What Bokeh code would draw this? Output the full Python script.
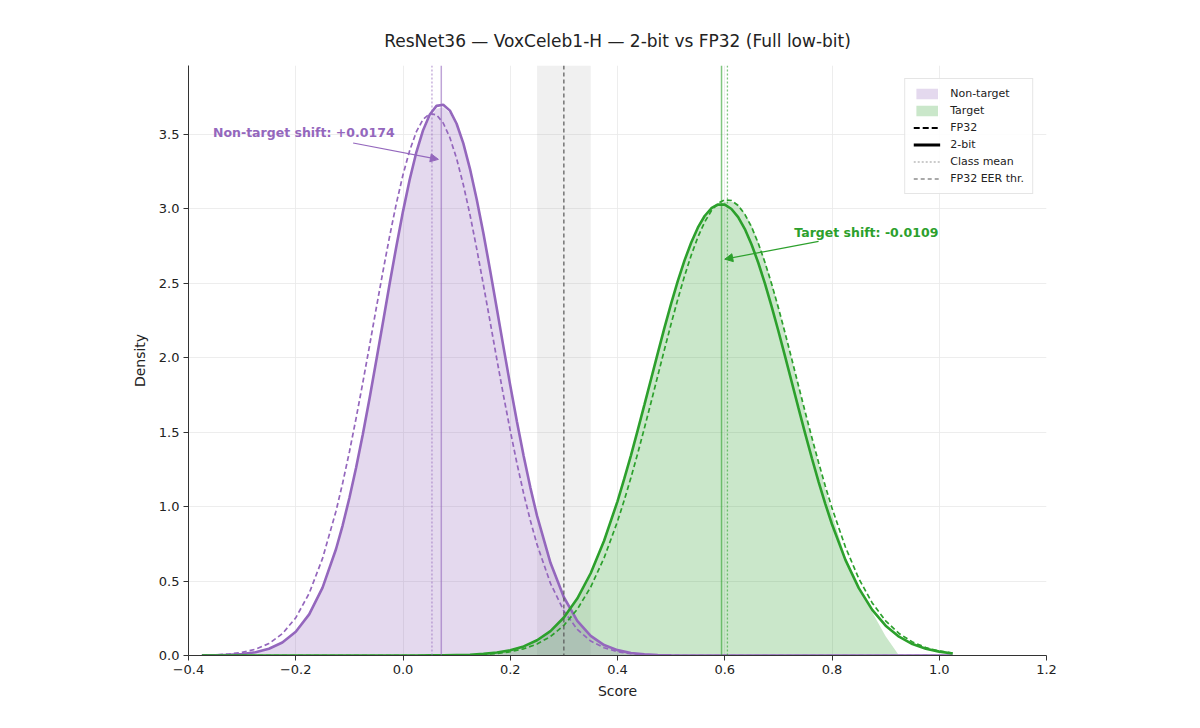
from bokeh.plotting import figure
from bokeh.models import (Span, BoxAnnotation, Arrow, NormalHead, Label, Legend, LegendItem,
                          FixedTicker, Range1d)
from bokeh.embed import file_html
from bokeh.resources import INLINE

# ---------------- data ----------------
title_text = "ResNet36 — VoxCeleb1-H — 2-bit vs FP32 (Full low-bit)"

# non-target scores (sample positions) and densities
nontarget_score = [-0.375, -0.35, -0.325, -0.3, -0.275, -0.25, -0.225, -0.2, -0.175, -0.15, -0.125,
                   -0.1125, -0.1, -0.0875, -0.075, -0.0625, -0.05, -0.0375, -0.025, -0.0125, 0.0,
                   0.0125, 0.025, 0.0375, 0.05, 0.0625, 0.075, 0.0875, 0.1, 0.1125, 0.125,
                   0.1375, 0.15, 0.1625, 0.175, 0.1875, 0.2, 0.2125, 0.225, 0.2375, 0.25,
                   0.275, 0.3, 0.325, 0.35, 0.375, 0.4, 0.425, 0.45, 0.475, 0.5, 0.525,
                   1.025]
nontarget_2bit = [0.001, 0.002, 0.004, 0.010, 0.022, 0.045, 0.087, 0.159, 0.276, 0.456, 0.713,
                  0.874, 1.057, 1.260, 1.483, 1.723, 1.976, 2.233, 2.493, 2.744, 2.981,
                  3.195, 3.379, 3.526, 3.631, 3.689, 3.697, 3.657, 3.569, 3.437, 3.265,
                  3.061, 2.833, 2.585, 2.327, 2.068, 1.813, 1.569, 1.339, 1.127, 0.937,
                  0.622, 0.391, 0.233, 0.132, 0.070, 0.036, 0.017, 0.008, 0.003, 0.001, 0.0,
                  0.0]
nontarget_fp32 = [0.002, 0.004, 0.010, 0.021, 0.042, 0.080, 0.146, 0.253, 0.417, 0.652, 0.968,
                  1.158, 1.366, 1.592, 1.830, 2.077, 2.329, 2.575, 2.813, 3.032, 3.227,
                  3.390, 3.516, 3.599, 3.637, 3.629, 3.574, 3.475, 3.335, 3.160, 2.957,
                  2.729, 2.487, 2.239, 1.988, 1.743, 1.509, 1.289, 1.087, 0.906, 0.744,
                  0.484, 0.299, 0.175, 0.097, 0.052, 0.026, 0.012, 0.006, 0.002, 0.001, 0.0,
                  0.0]
hist_nontarget = [0.0, 0.0, 0.003, 0.008, 0.020, 0.042, 0.083, 0.152, 0.268, 0.447, 0.700,
                  0.862, 1.045, 1.247, 1.470, 1.710, 1.962, 2.220, 2.480, 2.730, 2.965,
                  3.180, 3.360, 3.505, 3.610, 3.670, 3.680, 3.640, 3.555, 3.420, 3.250,
                  3.045, 2.820, 2.572, 2.315, 2.055, 1.800, 1.558, 1.330, 1.118, 0.930,
                  0.615, 0.385, 0.228, 0.128, 0.066, 0.032, 0.014, 0.006, 0.002, 0.0, 0.0,
                  0.0]

# target scores (sample positions) and densities
target_score = [-0.375,
                0.025, 0.05, 0.075, 0.1, 0.125, 0.15, 0.175, 0.2, 0.225, 0.25, 0.275, 0.3,
                0.325, 0.35, 0.375, 0.4,
                0.4125, 0.425, 0.4375, 0.45, 0.4625, 0.475, 0.4875, 0.5, 0.5125, 0.525,
                0.5375, 0.55, 0.5625, 0.575, 0.5875, 0.6, 0.6125, 0.625, 0.6375, 0.65,
                0.6625, 0.675, 0.6875, 0.7, 0.7125, 0.725, 0.7375, 0.75, 0.7625, 0.775,
                0.7875,
                0.8, 0.825, 0.85, 0.875, 0.9, 0.925, 0.95, 0.975, 1.0, 1.025]
target_2bit = [0.0,
               0.0, 0.001, 0.001, 0.003, 0.005, 0.011, 0.020, 0.035, 0.061, 0.102, 0.164, 0.255,
               0.382, 0.552, 0.770, 1.035,
               1.185, 1.342, 1.509, 1.681, 1.854, 2.028, 2.199, 2.362, 2.514, 2.652,
               2.772, 2.873, 2.950, 3.002, 3.027, 3.026, 2.997, 2.942, 2.862, 2.759,
               2.636, 2.496, 2.342, 2.178, 2.008, 1.834, 1.660, 1.489, 1.324, 1.166,
               1.018,
               0.881, 0.642, 0.452, 0.306, 0.200, 0.126, 0.077, 0.045, 0.026, 0.014]
target_fp32 = [0.0,
               0.0, 0.0, 0.001, 0.002, 0.004, 0.007, 0.014, 0.025, 0.045, 0.077, 0.127, 0.202,
               0.310, 0.459, 0.655, 0.900,
               1.041, 1.193, 1.354, 1.524, 1.698, 1.876, 2.053, 2.226, 2.392, 2.547,
               2.687, 2.809, 2.909, 2.985, 3.036, 3.058, 3.054, 3.020, 2.961, 2.876,
               2.767, 2.638, 2.493, 2.334, 2.165, 1.989, 1.811, 1.634, 1.462, 1.295,
               1.137,
               0.989, 0.728, 0.516, 0.353, 0.233, 0.148, 0.091, 0.053, 0.030, 0.017]
hist_target = [0.0,
               0.0, 0.0, 0.0, 0.002, 0.004, 0.009, 0.018, 0.032, 0.057, 0.097, 0.158, 0.248,
               0.372, 0.540, 0.755, 1.020,
               1.170, 1.325, 1.495, 1.665, 1.840, 2.015, 2.185, 2.350, 2.500, 2.645,
               2.760, 2.870, 2.940, 3.005, 3.025, 3.045, 3.045, 3.030, 2.965, 2.890,
               2.775, 2.650, 2.500, 2.340, 2.170, 1.990, 1.815, 1.630, 1.460, 1.280,
               1.120,
               0.950, 0.660, 0.460, 0.290, 0.130, 0.0, 0.0, 0.0, 0.0, 0.0]

# class means and EER threshold
nontarget_mean_fp32 = 0.054
nontarget_mean_2bit = 0.0714
target_mean_fp32 = 0.605
target_mean_2bit = 0.594
eer_thr_fp32 = 0.30
eer_band = [0.25, 0.35]

nontarget_shift_label = "Non-target shift: +0.0174"
target_shift_label = "Target shift: -0.0109"

x_ticks = [-0.4, -0.2, 0.0, 0.2, 0.4, 0.6, 0.8, 1.0, 1.2]
x_tick_labels = ["−0.4", "−0.2", "0.0", "0.2", "0.4", "0.6", "0.8", "1.0", "1.2"]
y_ticks = [0.0, 0.5, 1.0, 1.5, 2.0, 2.5, 3.0, 3.5]
y_tick_labels = ["0.0", "0.5", "1.0", "1.5", "2.0", "2.5", "3.0", "3.5"]

# ---------------- styling ----------------
FONT = "DejaVu Sans"
PURPLE = "#9467bd"
GREEN = "#2ca02c"

p = figure(frame_width=858, frame_height=590,
           x_range=Range1d(-0.4, 1.2), y_range=Range1d(0, 3.96),
           output_backend="svg", toolbar_location=None,
           min_border_left=188, min_border_right=138, min_border_top=65, min_border_bottom=57)

p.title.text = title_text
p.title.align = "center"
p.title.text_font = FONT
p.title.text_font_size = "17px"
p.title.text_font_style = "normal"
p.title.text_color = "#222222"
p.title.standoff = 30

p.outline_line_color = None
p.background_fill_color = "white"

for ax in (p.xaxis[0], p.yaxis[0]):
    ax.axis_line_color = "#333333"
    ax.axis_line_width = 1.0
    ax.major_tick_line_color = "#333333"
    ax.major_tick_out = 5
    ax.major_tick_in = 0
    ax.minor_tick_line_color = None
    ax.major_label_text_font = FONT
    ax.major_label_text_font_size = "13px"
    ax.major_label_text_color = "#222222"
    ax.axis_label_text_font = FONT
    ax.axis_label_text_font_size = "14px"
    ax.axis_label_text_font_style = "normal"
    ax.axis_label_text_color = "#222222"

p.xaxis.ticker = FixedTicker(ticks=x_ticks)
p.xaxis.major_label_overrides = dict(zip(x_ticks, x_tick_labels))
p.yaxis.ticker = FixedTicker(ticks=y_ticks)
p.yaxis.major_label_overrides = dict(zip(y_ticks, y_tick_labels))
p.xaxis.axis_label = "Score"
p.yaxis.axis_label = "Density"
p.xaxis.major_label_standoff = 4
p.yaxis.major_label_standoff = 4
p.xaxis.axis_label_standoff = 6
p.yaxis.axis_label_standoff = 8

p.xgrid.ticker = FixedTicker(ticks=x_ticks)
p.ygrid.ticker = FixedTicker(ticks=y_ticks)
for g in (p.xgrid[0], p.ygrid[0]):
    g.grid_line_color = "#e8e8e8"
    g.grid_line_width = 0.8

# EER band
p.add_layout(BoxAnnotation(left=eer_band[0], right=eer_band[1], fill_color="#9a9a9a",
                           fill_alpha=0.15, line_color=None, level="underlay"))

# histograms
r_hist_nt = p.varea(x=nontarget_score, y1=0, y2=hist_nontarget, fill_color=PURPLE, fill_alpha=0.25)
r_hist_tg = p.varea(x=target_score, y1=0, y2=hist_target, fill_color=GREEN, fill_alpha=0.25)

# fitted curves
p.line(nontarget_score, nontarget_fp32, line_color=PURPLE, line_width=1.7, line_dash="5 3")
p.line(nontarget_score, nontarget_2bit, line_color=PURPLE, line_width=2.6)
p.line(target_score, target_fp32, line_color=GREEN, line_width=1.7, line_dash="5 3")
p.line(target_score, target_2bit, line_color=GREEN, line_width=2.6)

# class means
p.add_layout(Span(location=nontarget_mean_fp32, dimension="height", line_color=PURPLE,
                  line_alpha=0.6, line_width=1.3, line_dash="2 2"))
p.add_layout(Span(location=nontarget_mean_2bit, dimension="height", line_color=PURPLE,
                  line_alpha=0.6, line_width=1.5))
p.add_layout(Span(location=target_mean_fp32, dimension="height", line_color=GREEN,
                  line_alpha=0.6, line_width=1.3, line_dash="2 2"))
p.add_layout(Span(location=target_mean_2bit, dimension="height", line_color=GREEN,
                  line_alpha=0.6, line_width=1.5))

# EER threshold
p.add_layout(Span(location=eer_thr_fp32, dimension="height", line_color="#555555",
                  line_width=1.2, line_dash="4 3"))

# annotations
p.add_layout(Arrow(end=NormalHead(size=8, fill_color=PURPLE, line_color=PURPLE),
                   x_start=-0.093, y_start=3.44, x_end=0.066, y_end=3.33,
                   line_color=PURPLE, line_width=1.2))
p.add_layout(Label(x=-0.185, y=3.51, text=nontarget_shift_label, text_align="center",
                   text_baseline="middle", text_font=FONT, text_font_size="12.5px",
                   text_font_style="bold", text_color=PURPLE))
p.add_layout(Arrow(end=NormalHead(size=8, fill_color=GREEN, line_color=GREEN),
                   x_start=0.775, y_start=2.78, x_end=0.600, y_end=2.66,
                   line_color=GREEN, line_width=1.2))
p.add_layout(Label(x=0.864, y=2.84, text=target_shift_label, text_align="center",
                   text_baseline="middle", text_font=FONT, text_font_size="12.5px",
                   text_font_style="bold", text_color=GREEN))

# legend proxies (placed outside the visible ranges)
proxy_x = [-2.0, -1.9]
proxy_y = [-2.0, -2.0]
r_fp32 = p.line(x=proxy_x, y=proxy_y, line_color="black", line_width=2, line_dash="6 3")
r_2bit = p.line(x=proxy_x, y=proxy_y, line_color="black", line_width=3)
r_mean = p.line(x=proxy_x, y=proxy_y, line_color="#bbbbbb", line_width=1.5, line_dash="2 2")
r_eer = p.line(x=proxy_x, y=proxy_y, line_color="#555555", line_width=1.2, line_dash="4 3")

legend = Legend(items=[
    LegendItem(label="Non-target", renderers=[r_hist_nt]),
    LegendItem(label="Target", renderers=[r_hist_tg]),
    LegendItem(label="FP32", renderers=[r_fp32]),
    LegendItem(label="2-bit", renderers=[r_2bit]),
    LegendItem(label="Class mean", renderers=[r_mean]),
    LegendItem(label="FP32 EER thr.", renderers=[r_eer]),
], location="top_right")
legend.margin = 13
legend.padding = 8
legend.spacing = 4
legend.label_height = 13
legend.glyph_height = 13
legend.glyph_width = 27
legend.label_standoff = 10
legend.label_text_font = FONT
legend.label_text_font_size = "11px"
legend.label_text_color = "#222222"
legend.border_line_color = "#cccccc"
legend.border_line_width = 1
legend.background_fill_alpha = 0.85
p.add_layout(legend)

open("out.html", "w").write(file_html(p, INLINE))
